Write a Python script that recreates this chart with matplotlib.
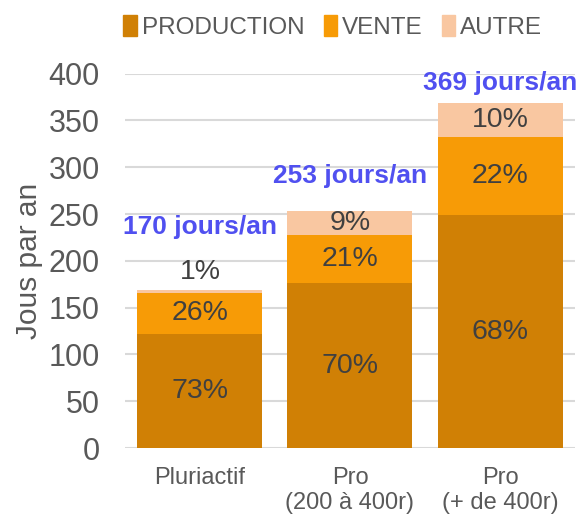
import matplotlib
matplotlib.use('Agg')
import matplotlib.pyplot as plt
from matplotlib.patches import Patch

plt.rcParams['font.family'] = ['Liberation Sans', 'DejaVu Sans']

# data
categories = ['Pluriactif', 'Pro\n(200 à 400r)', 'Pro\n(+ de 400r)']
production = [122, 176, 249]
vente = [44, 52, 83]
autre = [3, 25, 37]
pct_production = ['73%', '70%', '68%']
pct_vente = ['26%', '21%', '22%']
pct_autre = ['1%', '9%', '10%']
totals = ['170 jours/an', '253 jours/an', '369 jours/an']

c_prod = '#D08005'
c_vente = '#F79B06'
c_autre = '#F9C7A1'
grey = '#595959'
txt = '#404040'

fig = plt.figure(figsize=(5.78, 5.15), dpi=100)
ax = fig.add_axes([0.216, 0.130, 0.779, 0.727])

x = range(len(categories))
w = 0.833
bottom2 = [p + v for p, v in zip(production, vente)]
ax.bar(x, production, w, color=c_prod, zorder=2)
ax.bar(x, vente, w, bottom=production, color=c_vente, zorder=2)
ax.bar(x, autre, w, bottom=bottom2, color=c_autre, zorder=2)

# percentage labels
for i in x:
    ax.text(i, production[i] / 2, pct_production[i], ha='center', va='center',
            fontsize=20.5, color=txt, zorder=3)
    ax.text(i, production[i] + vente[i] / 2, pct_vente[i], ha='center', va='center',
            fontsize=20.5, color=txt, zorder=3)
    top = bottom2[i] + autre[i]
    if autre[i] < 15:
        ya = top + 19
    else:
        ya = bottom2[i] + autre[i] / 2
    ax.text(i, ya, pct_autre[i], ha='center', va='center',
            fontsize=20.5, color=txt, zorder=3)

# totals
total_y = [236, 291, 390]
for i in x:
    ax.text(i, total_y[i], totals[i], ha='center', va='center', fontsize=19,
            fontweight='bold', color='#5050F0', clip_on=False)

ax.set_xlim(-0.5, 2.5)
ax.set_ylim(0, 400)
ax.set_yticks(range(0, 401, 50))
ax.set_xticks(list(x))
ax.set_xticklabels(categories, fontsize=17, color=grey, linespacing=1.15)
ax.tick_params(axis='y', labelsize=22, labelcolor=grey, length=0, pad=18)
ax.tick_params(axis='x', length=0, pad=14)
ax.grid(axis='y', color='#D9D9D9', linewidth=1.5, zorder=0)
for s in ax.spines.values():
    s.set_visible(False)
ax.set_ylabel('Jous par an', fontsize=21.5, color=grey, labelpad=4)

handles = [Patch(color=c_prod, label='PRODUCTION'),
           Patch(color=c_vente, label='VENTE'),
           Patch(color=c_autre, label='AUTRE')]
fig.legend(handles=handles, loc='center left', bbox_to_anchor=(0.205, 0.948), ncol=3,
           frameon=False, handlelength=0.55, handleheight=0.95, handletextpad=0.2,
           columnspacing=0.8, borderaxespad=0, borderpad=0.2,
           prop={'size': 17.5}, labelcolor=grey)

fig.savefig('out.png', dpi=100)
